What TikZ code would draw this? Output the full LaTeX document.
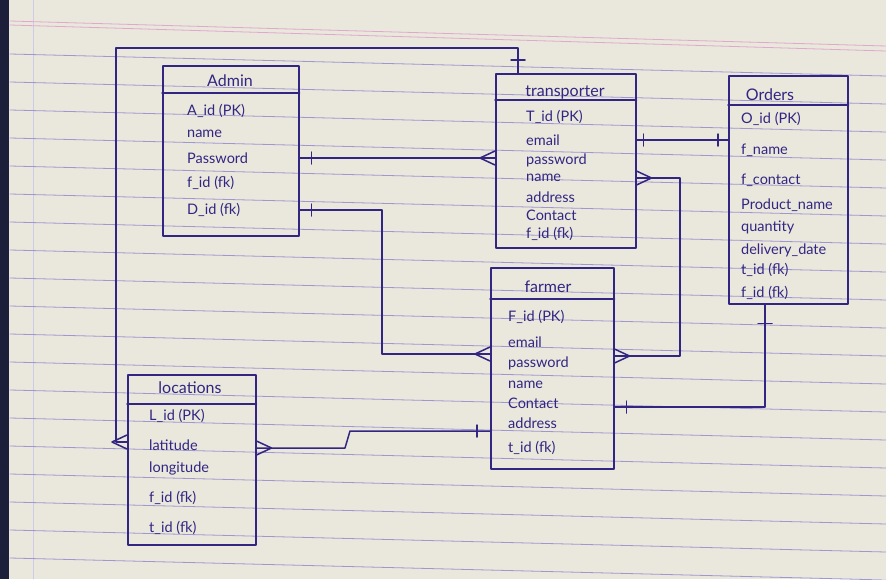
\documentclass[tikz,border=0pt]{standalone}
\usepackage{fontspec}
\setmainfont{Lato}
\definecolor{inkc}{RGB}{50,38,130}
\definecolor{paperc}{RGB}{234,231,221}
\definecolor{rulec}{RGB}{160,150,208}
\definecolor{pinkc}{RGB}{224,168,204}
\definecolor{edgec}{RGB}{28,30,58}
\tikzset{
  ink/.style={draw=inkc, line width=1.5pt},
  tbl/.style={ink, rectangle, anchor=north west, inner sep=0pt},
  attr/.style={text=inkc, anchor=west, inner sep=1pt},
  ttl/.style={text=inkc, inner sep=1pt, font=\fontsize{16}{18}\selectfont},
}
\begin{document}
\begin{tikzpicture}[x=1pt, y=-1pt, line join=round, line cap=round, font=\fontsize{14.5}{17}\selectfont]
\useasboundingbox (0,0) rectangle (886,579);
% paper
\fill[paperc] (0,0) rectangle (886,579);
\fill[edgec] (0,0) rectangle (9,579);
\draw[rulec!50, line width=0.6pt] (33,0) -- (33,579);
\foreach \k in {0,...,18}
  \draw[rulec, line width=0.8pt] (10,{54+28*\k}) -- (886,{76+28*\k});
\draw[pinkc, line width=0.8pt] (10,21) -- (886,46) (10,25) -- (886,51);

% tables
\node[tbl, minimum width=136, minimum height=170] (admin) at (162,65) {};
\node[tbl, minimum width=140, minimum height=174] (transporter) at (495,73) {};
\node[tbl, minimum width=119, minimum height=228] (orders) at (728,75) {};
\node[tbl, minimum width=123, minimum height=201] (farmer) at (490,267) {};
\node[tbl, minimum width=128, minimum height=170] (locations) at (127,374) {};
\foreach \t/\h in {admin/28,transporter/27,orders/30,farmer/32,locations/30}
  \draw[ink] (\t.north west) ++(0,\h) coordinate (h) -- (h -| \t.east);

\node[ttl] (ad-t) at (230,81) {Admin};
\node[ttl] (tr-t) at (565,92) {transporter};
\node[ttl] (or-t) at (770,95) {Orders};
\node[ttl] (fa-t) at (548,287) {farmer};
\node[ttl] (lo-t) at (190,388) {locations};

\foreach \n/\y/\s in {aid/111/{A\_id (PK)}, nm/134/name, pw/158/Password, fid/183/{f\_id (fk)}, did/210/{D\_id (fk)}}
  \node[attr] (ad-\n) at (186,\y) {\s};
\foreach \n/\y/\s in {tid/117/{T\_id (PK)}, em/140/email, pw/160/password, nm/178/name, ad/197/address, ct/215/Contact, fid/234/{f\_id (fk)}}
  \node[attr] (tr-\n) at (525,\y) {\s};
\foreach \n/\y/\s in {oid/119/{O\_id (PK)}, fn/150/f\_name, fc/180/f\_contact, pn/205/Product\_name, qt/227/quantity, dd/250/delivery\_date, tid/270/{t\_id (fk)}, fid/293/{f\_id (fk)}}
  \node[attr] (or-\n) at (740,\y) {\s};
\foreach \n/\y/\s in {fid/317/{F\_id (PK)}, em/342/email, pw/363/password, nm/385/name, ct/403/Contact, ad/423/address, tid/448/{t\_id (fk)}}
  \node[attr] (fa-\n) at (507,\y) {\s};
\foreach \n/\y/\s in {lid/416/{L\_id (PK)}, lat/445/latitude, lon/468/longitude, fid/498/{f\_id (fk)}, tid/528/{t\_id (fk)}}
  \node[attr] (lo-\n) at (148,\y) {\s};

% relations
\path (116,442) coordinate (k1) (116,48) coordinate (k2) (518,48) coordinate (k3)
      (382,354) coordinate (k5) (680,356) coordinate (k6) (765,407) coordinate (k7)
      (345,448) coordinate (k8) (350,431) coordinate (k9);
\draw[ink] (locations.west |- k1) -- (k1) -- (k2) -- (k3) -- (transporter.north -| k3);
\draw[ink] (admin.east |- ad-pw) -- (transporter.west |- ad-pw);
\draw[ink] (admin.east |- ad-did) -| (k5) -- (farmer.west |- k5);
\draw[ink] (transporter.east |- tr-em) -- (orders.west |- tr-em);
\draw[ink] (transporter.east |- tr-nm) -| (k6) -- (farmer.east |- k6);
\draw[ink] (orders.south -| k7) -- (k7) -- (farmer.east |- k7);
\draw[ink] (locations.east |- k8) -- (k8) -- (k9) -- (farmer.west |- k9);

% ends
\path (locations.west |- k1) coordinate (m1) (transporter.west |- ad-pw) coordinate (m2)
      (farmer.west |- k5) coordinate (m3) (transporter.east |- tr-nm) coordinate (m4)
      (farmer.east |- k6) coordinate (m5) (locations.east |- k8) coordinate (m6)
      (admin.east |- ad-pw) coordinate (t1) (admin.east |- ad-did) coordinate (t2)
      (transporter.east |- tr-em) coordinate (t3) (orders.west |- tr-em) coordinate (t4)
      (farmer.east |- k7) coordinate (t5) (farmer.west |- k9) coordinate (t6);
\foreach \p/\d in {m1/-1, m2/-1, m3/-1, m4/1, m5/1, m6/1}
  \draw[ink] (\p) ++(0,-7) -- ++(15*\d,7) -- ++(-15*\d,7);
\foreach \p/\o in {t1/12, t2/12, t3/7, t4/-10, t5/12, t6/-13}
  \draw[ink] (\p) ++(\o,-6) -- ++(0,12);
\draw[ink] (orders.south -| k7) ++(-7,19) -- ++(14,0);
\draw[ink] (transporter.north -| k3) ++(-7,-13) -- ++(14,0);
\end{tikzpicture}
\end{document}
